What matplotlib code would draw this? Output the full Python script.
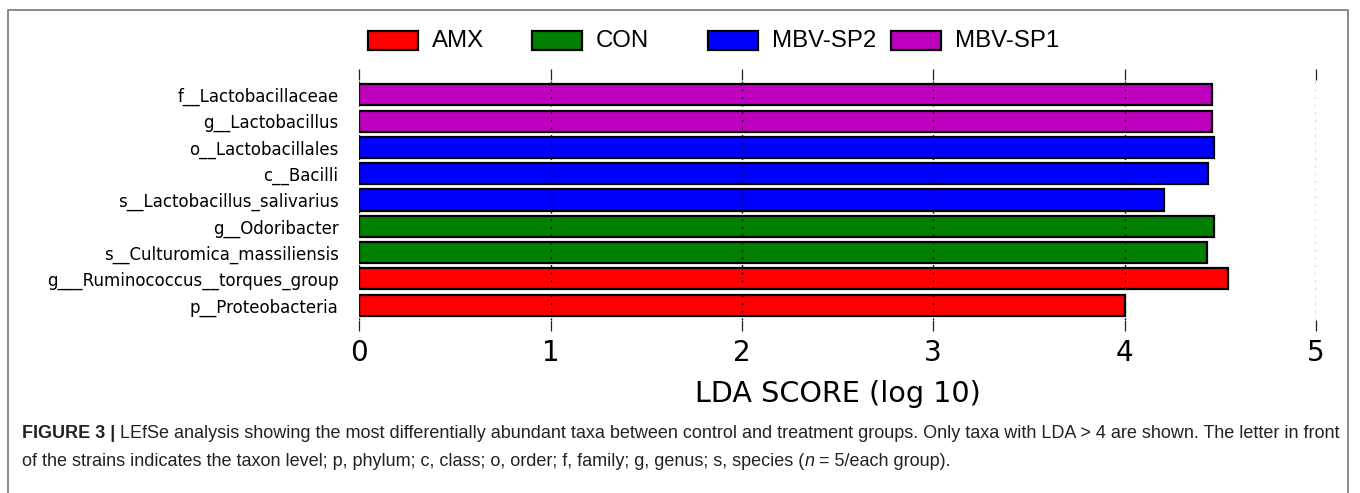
import matplotlib
matplotlib.use("Agg")
import matplotlib.pyplot as plt
from matplotlib.patches import Rectangle
from matplotlib.lines import Line2D
import numpy as np

# ---------------- data ----------------
taxa = [
    "f__Lactobacillaceae",
    "g__Lactobacillus",
    "o__Lactobacillales",
    "c__Bacilli",
    "s__Lactobacillus_salivarius",
    "g__Odoribacter",
    "s__Culturomica_massiliensis",
    "g___Ruminococcus__torques_group",
    "p__Proteobacteria",
]
lda_scores = [4.455, 4.455, 4.466, 4.438, 4.207, 4.466, 4.431, 4.541, 4.005]
groups = ["MBV-SP1", "MBV-SP1", "MBV-SP2", "MBV-SP2", "MBV-SP2",
          "CON", "CON", "AMX", "AMX"]
legend_groups = ["AMX", "CON", "MBV-SP2", "MBV-SP1"]
group_colors = {"AMX": "#ff0000", "CON": "#007f00",
                "MBV-SP2": "#0000ff", "MBV-SP1": "#bf00bf"}
x_ticks = [0, 1, 2, 3, 4, 5]
x_label = "LDA SCORE (log 10)"
caption_line1 = [("FIGURE 3 |", "bold", "normal"),
                 ("LEfSe analysis showing the most differentially abundant taxa between control and "
                  "treatment groups. Only taxa with LDA > 4 are shown. The letter in front", "normal", "normal")]
caption_line2 = [("of the strains indicates the taxon level; p, phylum; c, class; o, order; f, family; "
                  "g, genus; s, species (", "normal", "normal"),
                 ("n", "normal", "italic"),
                 ("= 5/each group).", "normal", "normal")]

W, H = 1360, 493
fig = plt.figure(figsize=(W / 100, H / 100), dpi=100)
fig.patch.set_facecolor("white")

def fx(px):
    return px / W

def fy(py):
    return 1 - py / H

# ---------------- axes ----------------
x0_px, x5_px = 359.3, 1315.8
ax_top, ax_bot = 80, 320
ax = fig.add_axes([fx(x0_px), fy(ax_bot), (x5_px - x0_px) / W, (ax_bot - ax_top) / H])

n = len(taxa)
ypos = np.arange(n)[::-1]
colors = [group_colors[g] for g in groups]
ax.barh(ypos, lda_scores, height=0.8, color=colors, edgecolor="black",
        linewidth=1.6, zorder=2)
ax.set_xlim(0, 5)
ax.set_ylim(-0.56, n - 1 + 0.56)
ax.set_yticks(ypos)
ax.set_yticklabels(taxa, fontsize=12, family="DejaVu Sans")
ax.set_xticks(x_ticks)
ax.set_xticklabels([str(t) for t in x_ticks], fontsize=20, family="DejaVu Sans")
ax.tick_params(axis="y", length=0, pad=15)
ax.tick_params(axis="x", top=True, bottom=True, direction="out", length=8,
               width=0.9, color="#222222", pad=6)
for s in ax.spines.values():
    s.set_visible(False)
ax.grid(axis="x", linestyle=(0, (1.5, 4)), color="#111111", linewidth=1.0, zorder=3)
ax.set_axisbelow(False)
ax.set_xlabel(x_label, fontsize=20.6, family="DejaVu Sans")
ax.xaxis.set_label_coords(0.5, -(380 - ax_bot) / (ax_bot - ax_top))

# ---------------- legend (manual, centered) ----------------
patch_x = [368.3, 531.7, 708.3, 890.7]
leg_cy = 40.7
pw, ph = 50, 18.5
for gname, px in zip(legend_groups, patch_x):
    fig.patches.append(Rectangle((fx(px), fy(leg_cy + ph / 2)), pw / W, ph / H,
                                 transform=fig.transFigure, facecolor=group_colors[gname],
                                 edgecolor="black", linewidth=1.6))
    fig.text(fx(px + pw + 14), fy(leg_cy), gname, fontsize=17.3,
             family="Liberation Sans", va="center", ha="left")

# ---------------- border ----------------
bx0, bx1, by0 = 7.5, 1348, 9.5
fig.add_artist(Line2D([fx(bx0), fx(bx0), fx(bx1), fx(bx1)],
                      [fy(H + 5), fy(by0), fy(by0), fy(H + 5)],
                      transform=fig.transFigure, color="#808080", linewidth=1.3))

# ---------------- caption ----------------
renderer = fig.canvas.get_renderer()
cap_left, cap_right = 22.0, 1339.0

def measure(txt, size, weight, style):
    t = fig.text(0, 0, txt, fontsize=size, family="Liberation Sans",
                 fontweight=weight, fontstyle=style)
    w = t.get_window_extent(renderer).width
    t.remove()
    return w

def line_width(pieces, size):
    sp = measure("x x", size, "normal", "normal") - measure("xx", size, "normal", "normal")
    tot = 0
    for i, (txt, wt, st) in enumerate(pieces):
        tot += measure(txt, size, wt, st)
        if i < len(pieces) - 1:
            tot += sp
    return tot, sp

base = 11.0
w1, _ = line_width(caption_line1, base)
cap_size = base * (cap_right - cap_left) / w1

def draw_line(pieces, baseline_y, size, no_space_after=()):
    _, sp = line_width(pieces, size)
    x = cap_left
    for i, (txt, wt, st) in enumerate(pieces):
        t = fig.text(fx(x), fy(baseline_y), txt, fontsize=size, family="Liberation Sans",
                     fontweight=wt, fontstyle=st, color="#222222", va="baseline", ha="left")
        x += t.get_window_extent(renderer).width
        if i not in no_space_after:
            x += sp

draw_line(caption_line1, 438, cap_size)
draw_line(caption_line2, 466, cap_size, no_space_after=(0,))

fig.savefig("out.png", dpi=100, facecolor="white")
